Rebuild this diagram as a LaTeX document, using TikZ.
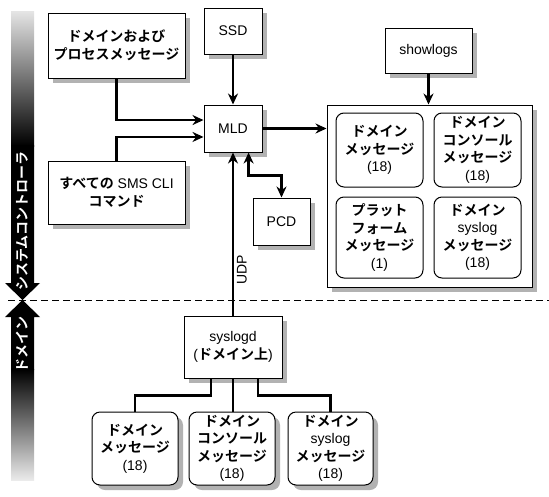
\documentclass[tikz,border=0pt]{standalone}
\usepackage{fontspec}
\setmainfont{Liberation Sans}
\newfontfamily\jpfont{Noto Sans CJK JP}[BoldFont={Noto Sans CJK JP Bold}]
\newcommand{\jb}[1]{{\jpfont\bfseries #1}}
\usetikzlibrary{arrows.meta,shadows}

\begin{document}
\begin{tikzpicture}[x=1pt,y=-1pt,font=\fontsize{14}{17.5}\selectfont,
    wh/.style 2 args={minimum width=#1pt,minimum height=#2pt}]
\useasboundingbox (0,0) rectangle (549,496);
% border between controller and domain
\draw[line width=1pt,dash pattern=on 7pt off 4pt] (8,300) -- (549,300);
% side bar
\shade[top color=black!10,bottom color=black] (11,11) rectangle (34,146);
\fill (11,145) -- (34,145) -- (34,283) -- (40,283) -- (22.5,300) -- (5,283) -- (11,283) -- cycle;
\fill (22.5,300) -- (40,317) -- (34,317) -- (34,370) -- (11,370) -- (11,317) -- (5,317) -- cycle;
\shade[top color=black,bottom color=black!8] (11,369) rectangle (34,480);
\begin{scope}[every node/.style={white,rotate=90,inner sep=0pt}]
    \node (ctrl) at (22.5,221) {\jb{システムコントローラ}};
    \node (dside) at (22.5,344) {\jb{ドメイン}};
\end{scope}
\begin{scope}[every node/.style={draw,fill=white,line width=1pt,inner sep=0pt,align=center,
    drop shadow={shadow xshift=5pt,shadow yshift=-5pt,fill=black!30,opacity=1}}]
    \node[wh={137}{65}] (dom) at (116.5,45.5) {\jb{ドメインおよび}\\\jb{プロセスメッセージ}};
    \node[wh={137}{63}] (cli) at (116.5,192.5) {\jb{すべての} SMS CLI\\\jb{コマンド}};
    \node[wh={58}{46}] (ssd) at (233,31) {SSD};
    \node[wh={58}{47}] (mld) at (233,128.5) {MLD};
    \node[wh={57}{47}] (pcd) at (281.5,221.5) {PCD};
    \node[wh={87}{45}] (show) at (428.5,50.5) {showlogs};
    \node[wh={205}{182}] (store) at (429.5,196) {};
    \node[wh={98}{62}] (syslogd) at (233,347) {syslogd\\(\jb{ドメイン上})};
\end{scope}
\begin{scope}[every node/.style={draw,fill=white,line width=1pt,inner sep=0pt,align=center,
    rounded corners=8pt}]
    \node[wh={87}{74}] (m1) at (379.5,150) {\jb{ドメイン}\\\jb{メッセージ}\\(18)};
    \node[wh={87}{74}] (m2) at (477.5,150) {\jb{ドメイン}\\\jb{コンソール}\\\jb{メッセージ}\\(18)};
    \node[wh={87}{81}] (m3) at (379.5,237.5) {\jb{プラット}\\\jb{フォーム}\\\jb{メッセージ}\\(1)};
    \node[wh={87}{81}] (m4) at (477.5,237.5) {\jb{ドメイン}\\syslog\\\jb{メッセージ}\\(18)};
\end{scope}
\begin{scope}[every node/.style={draw,fill=white,line width=1pt,inner sep=0pt,align=center,
    rounded corners=8pt,
    drop shadow={shadow xshift=5pt,shadow yshift=-5pt,fill=black!30,opacity=1}}]
    \node[wh={86}{73}] (b1) at (135,448.5) {\jb{ドメイン}\\\jb{メッセージ}\\(18)};
    \node[wh={86}{73}] (b2) at (232,448.5) {\jb{ドメイン}\\\jb{コンソール}\\\jb{メッセージ}\\(18)};
    \node[wh={85}{73}] (b3) at (330.5,448.5) {\jb{ドメイン}\\syslog\\\jb{メッセージ}\\(18)};
\end{scope}
\begin{scope}[>={Stealth[length=11pt,width=10pt]},line width=2.2pt]
    \draw[->] (dom.south) |- (mld.164);
    \draw[->] (cli.north) |- (mld.196);
    \draw[->] (ssd) -- (mld);
    \draw[->] (mld.east) -- (mld.east -| store.west);
    \draw[->] (show.south) -- (show.south |- store.north);
    \draw[->] (syslogd) -- (mld) node[pos=.28,sloped,below,inner sep=3pt] (udp) {UDP};
    \draw[<->] (mld.-57) -- ++(0,23) -| (pcd.north);
    \draw (syslogd.-125) -- ++(0,17) -| (b1.north);
    \draw (syslogd.south) -- (syslogd.south |- b2.north);
    \draw (syslogd.-52) -- ++(0,17) -| (b3.north);
\end{scope}
\end{tikzpicture}
\end{document}
